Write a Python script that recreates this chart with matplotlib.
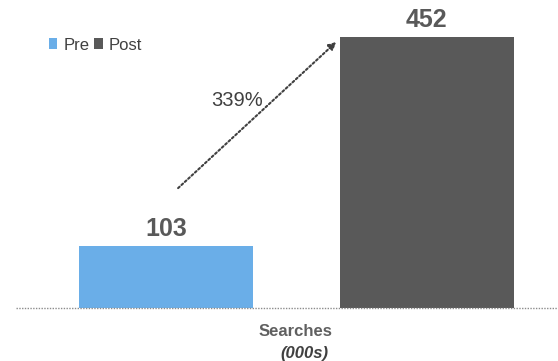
import matplotlib
matplotlib.use("Agg")
from matplotlib import pyplot as plt

plt.rcParams["font.family"] = ["Liberation Sans", "DejaVu Sans"]

categories = ["Pre", "Post"]
searches = [103, 452]
growth_label = "339%"
colors = ["#6aaee8", "#595959"]
text_color = "#595959"

fig = plt.figure(figsize=(5.58, 3.61), dpi=100)
ax = fig.add_axes([0.0287, 0.147, 0.9695, 0.853])

xs = list(range(len(categories)))
bars = ax.bar(xs, searches, width=0.668, color=colors, label=categories)

for x, v in zip(xs, searches):
    ax.text(x, v + 17, str(v), ha="center", va="baseline", fontsize=18,
            fontweight="bold", color=text_color)

ax.set_xlim(-0.576, 1.50)
ax.set_ylim(0, 514)

# dotted baseline
ax.axhline(0, color="#8c8c8c", lw=1.0, ls=(0, (1, 1)), clip_on=False)
for side in ["top", "right", "left", "bottom"]:
    ax.spines[side].set_visible(False)
ax.set_xticks([])
ax.set_yticks([])

# growth arrow from pre to post
ax.annotate("", xy=(0.653, 444), xytext=(0.046, 200),
            arrowprops=dict(arrowstyle="-|>", color="#404040", lw=1.5,
                            ls=(0, (1, 1.2)), mutation_scale=11,
                            shrinkA=0, shrinkB=0))
ax.text(0.273, 347, growth_label, ha="center", va="center", fontsize=14.5,
        color="#404040")

# legend
leg = fig.legend(handles=list(bars), labels=categories, loc="center left",
                 bbox_to_anchor=(0.0878, 0.875), bbox_transform=fig.transFigure,
                 ncol=2, frameon=False, borderpad=0, borderaxespad=0,
                 handlelength=0.5, handleheight=0.6, handletextpad=0.36,
                 columnspacing=0.3, fontsize=12)
for t in leg.get_texts():
    t.set_color("#404040")

fig.text(0.530, 0.083, "Searches", ha="center", va="center", fontsize=12,
         fontweight="bold", color="#606060")
fig.text(0.545, 0.022, "(000s)", ha="center", va="center", fontsize=12,
         fontweight="bold", fontstyle="italic", color="#404040")

fig.savefig("out.png", dpi=100)
